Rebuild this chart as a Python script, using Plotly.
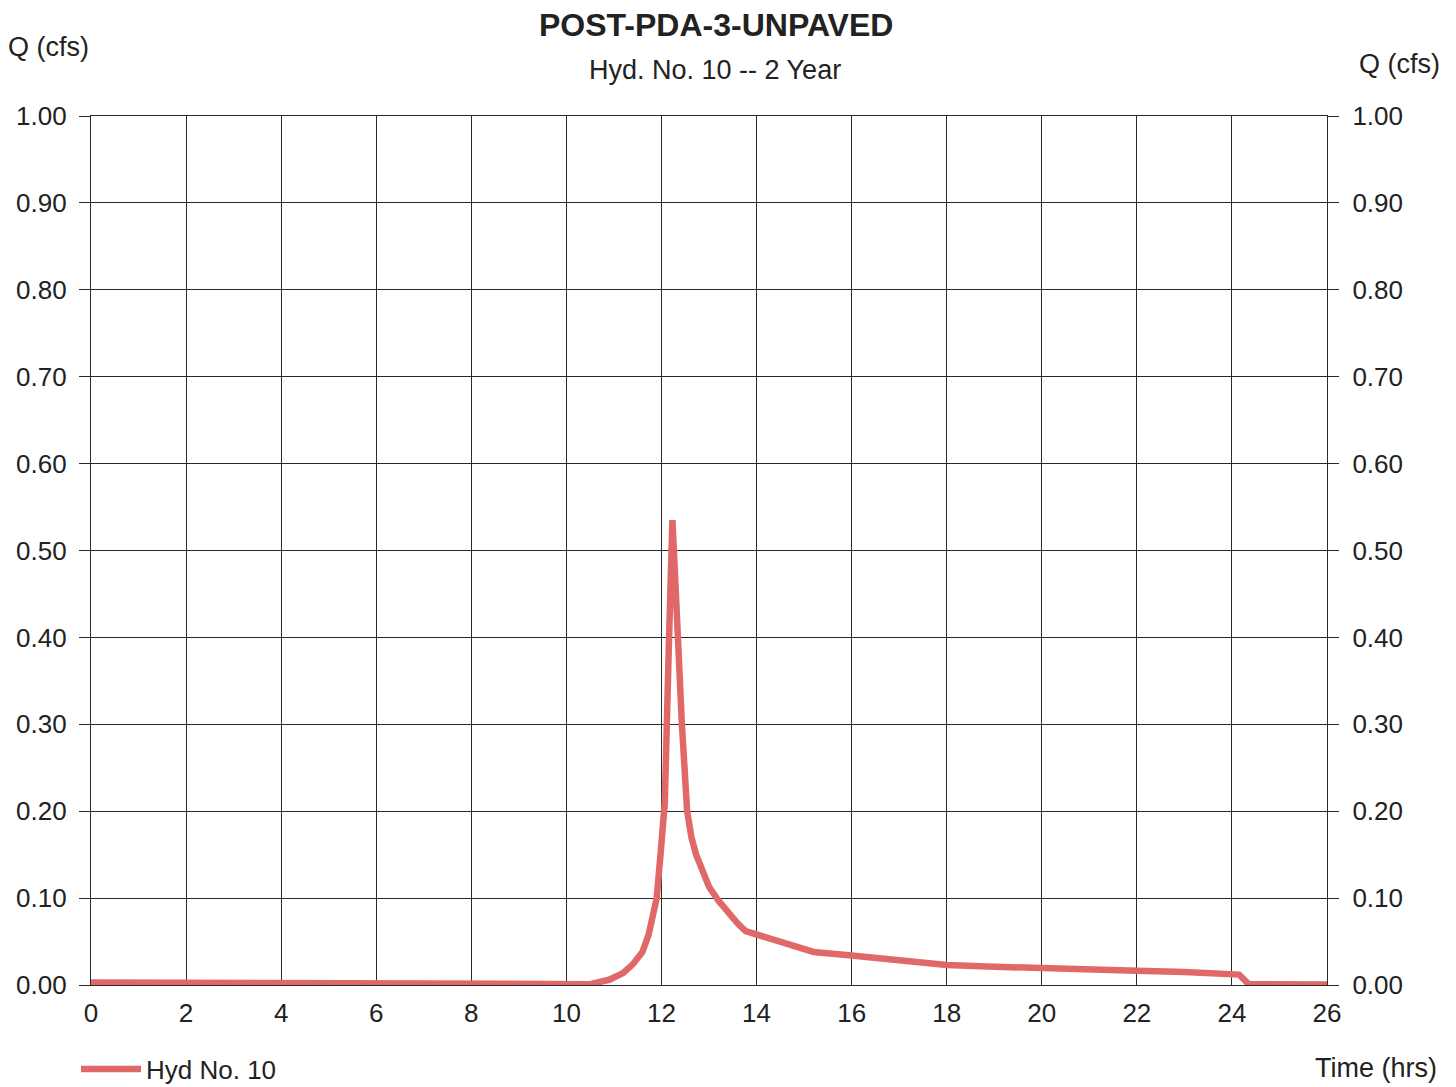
import plotly.graph_objects as go

time_hrs = [0, 2, 4, 6, 8, 10, 10.5, 10.9, 11.2, 11.4, 11.6, 11.73, 11.83, 11.9, 11.98,
            12.07, 12.16, 12.2, 12.23, 12.27, 12.33, 12.43, 12.54, 12.63, 12.73, 12.87,
            13.0, 13.2, 13.4, 13.6, 13.77, 14.0, 14.23, 14.7, 15.2, 16.0, 17.0, 18.0,
            19.0, 20.0, 21.0, 22.0, 23.0, 24.0, 24.15, 24.35, 25.0, 26.0]
flow_cfs = [0.003, 0.0028, 0.0025, 0.002, 0.0015, 0.001, 0.001, 0.006, 0.014, 0.024, 0.038,
            0.058, 0.08, 0.10, 0.15, 0.21, 0.40, 0.50, 0.535, 0.49, 0.40, 0.30, 0.20, 0.17,
            0.15, 0.13, 0.113, 0.097, 0.083, 0.071, 0.062, 0.058, 0.053, 0.046, 0.038,
            0.034, 0.029, 0.023, 0.021, 0.020, 0.018, 0.0165, 0.015, 0.014, 0.012, 0.001,
            0.0008, 0.0005]

x_ticks = list(range(0, 27, 2))
y_ticks = [0.0, 0.1, 0.2, 0.3, 0.4, 0.5, 0.6, 0.7, 0.8, 0.9, 1.0]
y_labels = [f"{v:.2f}" for v in y_ticks]

title = "POST-PDA-3-UNPAVED"
subtitle = "Hyd. No. 10 -- 2 Year"
series_name = "Hyd No. 10"

LINE_COLOR = "#E06868"
GRID = "#2a2a2a"
FONT = "Liberation Sans, Arial, sans-serif"

OFF = 8  # page body margin in the browser
W, H = 1456 - OFF, 1087 - OFF
ML, MT = 91 - OFF, 116 - OFF
MR, MB = 1456 - 1327, 1087 - 985
plot_h = H - MT - MB
plot_w = W - ML - MR


def px_to_paper(xp, yp):
    xf, yf = xp - OFF, yp - OFF
    return (xf - ML) / plot_w, (H - MB - yf) / plot_h


fig = go.Figure()
fig.add_trace(go.Scatter(x=time_hrs, y=flow_cfs, mode="lines", name=series_name,
                         line=dict(color=LINE_COLOR, width=6.5), cliponaxis=False))
fig.add_trace(go.Scatter(x=time_hrs, y=flow_cfs, mode="lines", yaxis="y2",
                         line=dict(color="rgba(0,0,0,0)", width=0), showlegend=False,
                         hoverinfo="skip"))

axis_font = dict(family=FONT, size=26, color="#222")

lx, ly = px_to_paper(76, 1069)

fig.update_layout(
    width=W, height=H,
    paper_bgcolor="white", plot_bgcolor="white",
    margin=dict(l=ML, r=MR, t=MT, b=MB, autoexpand=False),
    font=dict(family=FONT, color="#222"),
    xaxis=dict(range=[0, 26], tickvals=x_ticks, ticktext=[str(v) for v in x_ticks],
               showgrid=True, gridcolor=GRID, gridwidth=1.4, zeroline=False,
               showline=True, linecolor=GRID, linewidth=1.4, mirror=True,
               ticks="", ticklabelstandoff=5, tickfont=axis_font, automargin=False),
    yaxis=dict(range=[0, 1.0], tickvals=y_ticks, ticktext=y_labels,
               showgrid=True, gridcolor=GRID, gridwidth=1.4, zeroline=False,
               showline=True, linecolor=GRID, linewidth=1.4,
               ticks="outside", ticklen=11, tickcolor=GRID, tickwidth=1.4,
               ticklabelstandoff=7, tickfont=axis_font, automargin=False),
    yaxis2=dict(range=[0, 1.0], tickvals=y_ticks, ticktext=y_labels, overlaying="y",
                side="right", anchor="x", showgrid=False, zeroline=False,
                showline=True, linecolor=GRID, linewidth=1.4,
                ticks="outside", ticklen=11, tickcolor=GRID, tickwidth=1.4,
                ticklabelstandoff=8, tickfont=axis_font, automargin=False),
    showlegend=True,
    legend=dict(x=lx, y=ly, xanchor="left", yanchor="middle", orientation="h",
                font=dict(family=FONT, size=26, color="#222"), bgcolor="rgba(0,0,0,0)",
                borderwidth=0, itemwidth=60),
)

anns = []
for text, xp, yp, size, bold, anchor in [
    (title, 716, 25, 32, True, "center"),
    (subtitle, 715, 70, 27, False, "center"),
    ("Q (cfs)", 6, 47, 27, False, "left"),
    ("Q (cfs)", 1442, 64, 27, False, "right"),
    ("Time (hrs)", 1439, 1068, 27, False, "right"),
]:
    px, py = px_to_paper(xp, yp)
    anns.append(dict(text=f"<b>{text}</b>" if bold else text, x=px, y=py,
                     xref="paper", yref="paper", xanchor=anchor, yanchor="middle",
                     showarrow=False, font=dict(size=size, family=FONT, color="#222")))
fig.update_layout(annotations=anns)

fig.write_html("out.html")
